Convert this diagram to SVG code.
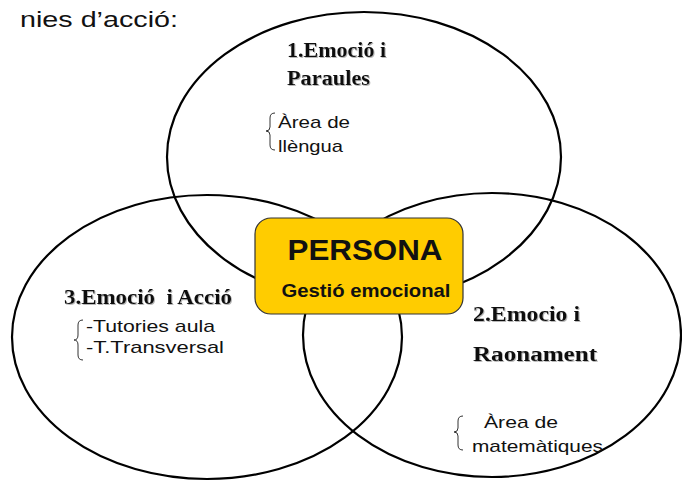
<svg xmlns="http://www.w3.org/2000/svg" width="682" height="481" viewBox="0 0 682 481">
<defs>
<filter id="sh" x="-5%" y="-20%" width="110%" height="140%">
<feDropShadow dx="1" dy="1" stdDeviation="0.7" flood-color="#888" flood-opacity="0.6"/>
</filter>
</defs>
<style>
.ell{fill:none;stroke:#000;stroke-width:2.2}
.t{font-family:"Liberation Serif","Times New Roman",serif;font-weight:bold;font-size:20px;fill:#111;white-space:pre;filter:url(#sh)}
.s{font-family:"Liberation Sans",Arial,sans-serif;font-size:17px;fill:#111}
.br{fill:none;stroke:#333;stroke-width:1}
.b{font-family:"Liberation Sans",Arial,sans-serif;font-weight:bold;fill:#111}
</style>
<rect width="682" height="481" fill="#fff"/>
<text class="s" x="20" y="27" style="font-size:22px" textLength="158" lengthAdjust="spacingAndGlyphs">nies d’acció:</text>
<g id="node-emocio-paraules">
<ellipse class="ell" cx="364" cy="157" rx="197" ry="145"/>
</g>
<g id="node-emocio-accio">
<ellipse class="ell" cx="207" cy="337" rx="195" ry="142"/>
</g>
<g id="node-emocio-raonament">
<ellipse class="ell" cx="492" cy="335" rx="189" ry="142"/>
</g>
<g id="labels-paraules">
<text class="t" x="287" y="57" textLength="99" lengthAdjust="spacingAndGlyphs">1.Emoció i</text>
<text class="t" x="287" y="85" textLength="83" lengthAdjust="spacingAndGlyphs">Paraules</text>
<path class="br" d="M275,113 Q270,113 270,118 L270,127 Q270,131 266,131 Q270,131 270,135 L270,145 Q270,150 275,150"/>
<text class="s" x="278" y="128" textLength="72" lengthAdjust="spacingAndGlyphs">Àrea de</text>
<text class="s" x="278" y="152" textLength="65" lengthAdjust="spacingAndGlyphs">llèngua</text>
</g>
<g id="labels-accio">
<text class="t" x="64" y="304" textLength="168" lengthAdjust="spacingAndGlyphs">3.Emoció  i Acció</text>
<path class="br" d="M83,320 Q78,320 78,325 L78,335 Q78,340 74,340 Q78,340 78,345 L78,355 Q78,360 83,360"/>
<text class="s" x="86" y="332" textLength="129" lengthAdjust="spacingAndGlyphs">-Tutories aula</text>
<text class="s" x="86" y="353" textLength="138" lengthAdjust="spacingAndGlyphs">-T.Transversal</text>
</g>
<g id="labels-raonament">
<text class="t" x="473" y="321" textLength="107" lengthAdjust="spacingAndGlyphs">2.Emocio i</text>
<text class="t" x="473" y="361" textLength="124" lengthAdjust="spacingAndGlyphs">Raonament</text>
<path class="br" d="M463,416 Q458,416 458,421 L458,428 Q458,432 454,432 Q458,432 458,436 L458,445 Q458,450 463,450"/>
<text class="s" x="484" y="428" textLength="74" lengthAdjust="spacingAndGlyphs">Àrea de</text>
<text class="s" x="472" y="452" textLength="131" lengthAdjust="spacingAndGlyphs">matemàtiques</text>
</g>
<g id="node-persona">
<rect x="255" y="218" width="208" height="96" rx="16" fill="#FFCC00" stroke="#333" stroke-width="1.2"/>
<text class="b" x="365" y="260" text-anchor="middle" font-size="30" textLength="155" lengthAdjust="spacingAndGlyphs">PERSONA</text>
<text class="b" x="366" y="297" text-anchor="middle" font-size="19" textLength="169" lengthAdjust="spacingAndGlyphs">Gestió emocional</text>
</g>
<g id="connectors"></g>
</svg>
